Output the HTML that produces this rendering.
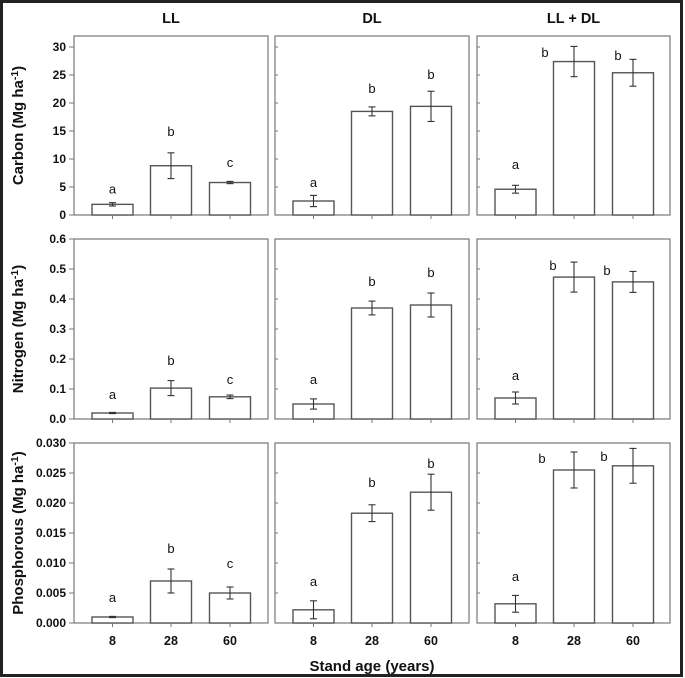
<!DOCTYPE html>
<html><head><meta charset="utf-8"><style>
html,body{margin:0;padding:0;background:#fff}
svg{display:block}
text{font-family:"Liberation Sans",Arial,sans-serif;fill:#111}
</style></head><body>
<svg id="c" width="685" height="678" viewBox="0 0 685 678" xmlns="http://www.w3.org/2000/svg">
<rect x="1.5" y="1.5" width="680" height="674" fill="#fff" stroke="#222" stroke-width="3"/>
</svg>
<script>
const categories = ["8","28","60"];
const columns = ["LL","DL","LL + DL"];
const rowTitles = ["Carbon","Nitrogen","Phosphorous"];
const carbonVals = [[1.9,8.8,5.8],[2.5,18.5,19.4],[4.6,27.4,25.4]];
const carbonErr = [[0.3,2.3,0.2],[1.0,0.8,2.7],[0.7,2.7,2.4]];
const carbonLetterY = [[4.7,15,9.5],[5.9,22.7,25.2],[9.1,29.1,28.6]];
const nitrogenVals = [[0.02,0.103,0.074],[0.05,0.37,0.38],[0.07,0.473,0.457]];
const nitrogenErr = [[0.002,0.025,0.006],[0.017,0.023,0.04],[0.02,0.05,0.035]];
const nitrogenLetterY = [[0.083,0.197,0.133],[0.133,0.46,0.49],[0.147,0.513,0.497]];
const phosVals = [[0.001,0.007,0.005],[0.0022,0.0183,0.0218],[0.0032,0.0255,0.0262]];
const phosErr = [[0.0001,0.002,0.001],[0.0015,0.0014,0.003],[0.0014,0.003,0.0029]];
const phosLetterY = [[0.0043,0.0125,0.01],[0.007,0.0235,0.0267],[0.0078,0.0275,0.0278]];
const letters = [["a","b","c"],["a","b","b"],["a","b","b"]];
const carbonTicks = ["0","5","10","15","20","25","30"];
const nitrogenTicks = ["0.0","0.1","0.2","0.3","0.4","0.5","0.6"];
const phosTicks = ["0.000","0.005","0.010","0.015","0.020","0.025","0.030"];
const yMax = [30,0.6,0.03];

const svg = document.getElementById('c');
const NS = "http://www.w3.org/2000/svg";
function mk(tag, attrs, parent){
  const e = document.createElementNS(NS, tag);
  for (const k in attrs) e.setAttribute(k, attrs[k]);
  (parent||svg).appendChild(e); return e;
}
const colX = [[74,268],[275,469],[477,670]];
const rowY = [[36,215],[239,419],[443,623]];
const barOff = [38.5,97,156];
const barW = 41;
const col3Dx = [[0,-29,-15],[0,-21,-26],[0,-32,-29]];
const rows = [
  {vals:carbonVals, err:carbonErr, ly:carbonLetterY, ticks:carbonTicks},
  {vals:nitrogenVals, err:nitrogenErr, ly:nitrogenLetterY, ticks:nitrogenTicks},
  {vals:phosVals, err:phosErr, ly:phosLetterY, ticks:phosTicks}
];

columns.forEach((c,ci)=>{
  const t = mk('text',{x:(colX[ci][0]+colX[ci][1])/2,y:23,'text-anchor':'middle','font-size':'14.5','font-weight':'bold'});
  
  
  t.textContent = c;
});

rows.forEach((r,ri)=>{
  const y0 = rowY[ri][1];
  const topPx = ri===0 ? 47 : rowY[ri][0];
  const sc = v => y0 - v/yMax[ri]*(y0-topPx);
  const tt = mk('text',{transform:`translate(23,${(rowY[ri][0]+rowY[ri][1])/2}) rotate(-90)`,'text-anchor':'middle','font-size':'15','font-weight':'bold'});
  
  
  tt.innerHTML = rowTitles[ri]+' (Mg ha<tspan dy="-5" font-size="10.5">-1</tspan><tspan dy="5">)</tspan>';
  r.ticks.forEach((lab,ti)=>{
    const v = yMax[ri]*ti/(r.ticks.length-1);
    const y = sc(v);
    const tl = mk('text',{x:66,y:y+4,'text-anchor':'end','font-size':'12','font-weight':'bold'});
    
    
    tl.textContent = lab;
  });
  columns.forEach((c,ci)=>{
    const xl = colX[ci][0], xr = colX[ci][1];
    const g = mk('g',{});
    
    
    mk('rect',{x:xl,y:rowY[ri][0],width:xr-xl,height:y0-rowY[ri][0],fill:'none',stroke:'#777','stroke-width':1.2},g);
    r.ticks.forEach((lab,ti)=>{
      const y = sc(yMax[ri]*ti/(r.ticks.length-1));
      if (ci===0) mk('line',{x1:xl-5,x2:xl,y1:y,y2:y,stroke:'#777'},g);
      else mk('line',{x1:xl,x2:xl+3,y1:y,y2:y,stroke:'#777'},g);
    });
    categories.forEach((cat,k)=>{
      const cx = xl+barOff[k];
      const v = r.vals[ci][k], e = r.err[ci][k];
      const b = mk('rect',{x:cx-barW/2,y:sc(v),width:barW,height:y0-sc(v),fill:'#fff',stroke:'#555','stroke-width':1.4},g);
      
      
      mk('line',{x1:cx,x2:cx,y1:sc(v+e),y2:sc(v-e),stroke:'#333','stroke-width':1.1},g);
      mk('line',{x1:cx-3.5,x2:cx+3.5,y1:sc(v+e),y2:sc(v+e),stroke:'#333','stroke-width':1.1},g);
      mk('line',{x1:cx-3.5,x2:cx+3.5,y1:sc(v-e),y2:sc(v-e),stroke:'#333','stroke-width':1.1},g);
      mk('line',{x1:cx,x2:cx,y1:y0,y2:y0+4,stroke:'#777'},g);
      const dx = ci===2 ? col3Dx[ri][k] : 0;
      const lt = mk('text',{x:cx+dx,y:sc(r.ly[ci][k])+5,'text-anchor':'middle','font-size':'13'},g);
      
      
      lt.textContent = letters[ci][k];
      if (ri===2){
        const xt = mk('text',{x:cx,y:645,'text-anchor':'middle','font-size':'12.5','font-weight':'bold'});
        
        
        xt.textContent = cat;
      }
    });
  });
});
const xt = mk('text',{x:372,y:671,'text-anchor':'middle','font-size':'15','font-weight':'bold'});


xt.textContent = 'Stand age (years)';
</script>
</body></html>
